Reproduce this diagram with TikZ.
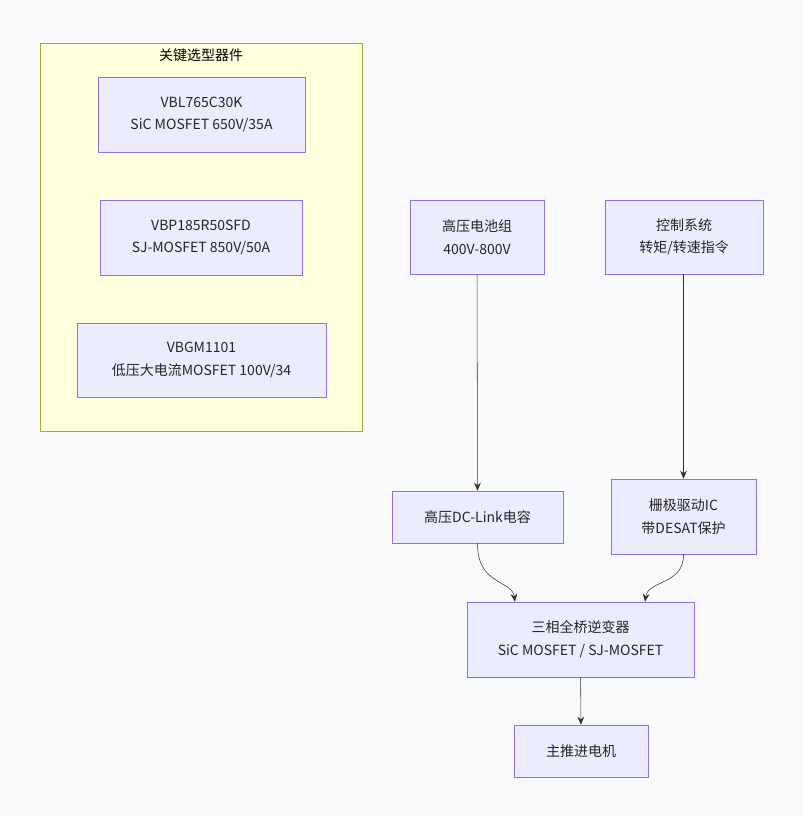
\documentclass[tikz,border=0pt]{standalone}
\usepackage{fontspec}
\setmainfont{Noto Sans CJK SC}
\usetikzlibrary{positioning,arrows.meta}
\definecolor{bg}{HTML}{F8F9FA}
\definecolor{boxfill}{HTML}{ECECFF}
\definecolor{boxline}{HTML}{9370DB}
\definecolor{grpfill}{HTML}{FFFFDE}
\definecolor{grpline}{HTML}{AAAA33}
\definecolor{edge}{HTML}{333333}

\begin{document}
\begin{tikzpicture}
    [ x=0.75pt, y=-0.75pt
    , box/.style={draw=boxline, fill=boxfill, align=center, inner sep=0pt,
                  font=\fontsize{10.5}{17}\selectfont, text=black!85}
    , link/.style={draw=edge, -{Stealth[length=6pt,width=5pt]}}
    ]
  \fill[bg] (0,0) rectangle (803,816);
  \useasboundingbox (0,0) rectangle (803,816);

  % parts group
  \draw[grpline, fill=grpfill] (40,43) rectangle (362,431);
  \node[font=\fontsize{10.5}{12}\selectfont] (grp) at (201,55) {关键选型器件};
  \node[box, minimum width=207*0.75pt, minimum height=75*0.75pt] (vbl) at (201.5,114.5)
    {VBL765C30K\\SiC MOSFET 650V/35A};
  \node[box, minimum width=202*0.75pt, minimum height=75*0.75pt] (vbp) at (201,237.5)
    {VBP185R50SFD\\SJ-MOSFET 850V/50A};
  \node[box, minimum width=249*0.75pt, minimum height=74*0.75pt] (vbgm) at (201.5,360)
    {VBGM1101\\低压大电流MOSFET 100V/34};

  % power path
  \node[box, minimum width=134*0.75pt, minimum height=74*0.75pt] (batt) at (477,237)
    {高压电池组\\400V-800V};
  \node[box, minimum width=158*0.75pt, minimum height=74*0.75pt] (ctrl) at (684,237)
    {控制系统\\转矩/转速指令};
  \node[box, minimum width=171*0.75pt, minimum height=52*0.75pt] (dclink) at (477.5,517)
    {高压DC-Link电容};
  \node[box, minimum width=145*0.75pt, minimum height=75*0.75pt] (gate) at (683.5,516.5)
    {栅极驱动IC\\带DESAT保护};
  \node[box, minimum width=227*0.75pt, minimum height=75*0.75pt] (inv) at (580.5,639.5)
    {三相全桥逆变器\\SiC MOSFET / SJ-MOSFET};
  \node[box, minimum width=134*0.75pt, minimum height=52*0.75pt] (motor) at (581,751)
    {主推进电机};

  \draw[link] (batt) -- (dclink);
  \draw[link] (ctrl.south -| gate) -- (gate);
  \draw[link] (dclink.south) .. controls (477,585) and (512,580) .. (inv.north -| 515,0);
  \draw[link] (gate.south) .. controls (684,585) and (648,580) .. (inv.north -| 645,0);
  \draw[link] (inv) -- (motor);
\end{tikzpicture}
\end{document}
